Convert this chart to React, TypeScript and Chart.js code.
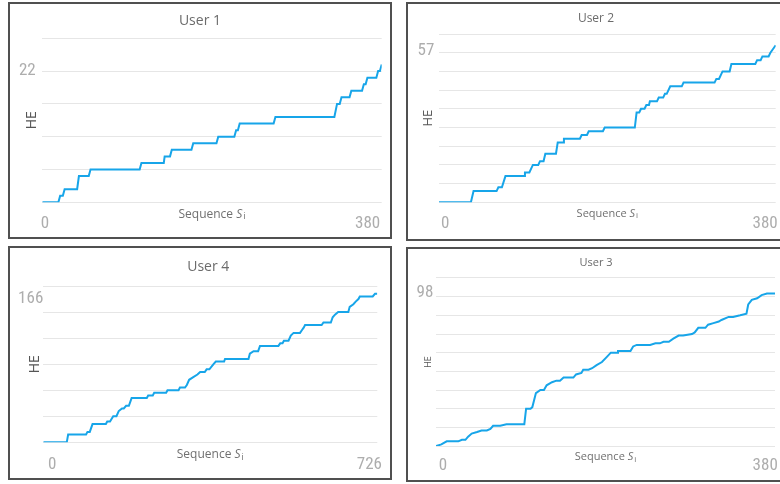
import { useEffect, useRef } from 'react';
import { Chart, registerables } from 'chart.js';

Chart.register(...registerables);

// ---- data: cumulative HE against sequence index S_i ----
const user1Seq = [0, 18, 20, 23, 25, 39, 41, 52, 54, 109, 111, 136, 137, 143, 145, 167, 169, 195, 197, 215, 217, 219, 221, 259, 261, 327, 330, 333, 335, 344, 346, 358, 360, 362, 364, 374, 376, 378, 380];
const user1HE = [1, 1, 2, 2, 3, 3, 5, 5, 6, 6, 7, 7, 8, 8, 9, 9, 10, 10, 11, 11, 12, 12, 13, 13, 14, 14, 16, 16, 17, 17, 18, 18, 19, 19, 20, 20, 21, 21, 22];
const user1Grid = [1, 6, 11, 16, 21, 26];
const user1Label = 22;
const user1SeqMax = 380;

const user2Seq = [0, 36, 39, 65, 67, 71, 75, 96, 97, 102, 104, 106, 112, 114, 118, 120, 132, 134, 140, 141, 159, 161, 167, 169, 185, 187, 221, 223, 226, 228, 232, 234, 237, 238, 246, 248, 253, 255, 257, 261, 274, 276, 311, 313, 316, 320, 328, 330, 357, 359, 363, 365, 372, 374, 377, 380];
const user2HE = [15, 15, 18, 18, 19, 19, 22, 22, 23, 23, 24, 25, 25, 26, 26, 28, 28, 31, 31, 32, 32, 33, 33, 34, 34, 35, 35, 39, 39, 40, 40, 41, 41, 42, 42, 43, 43, 44, 44, 46, 46, 47, 47, 48, 48, 50, 50, 52, 52, 53, 53, 54, 54, 55, 56, 57];
const user2Grid = [15, 20, 25, 30, 35, 40, 45, 50, 55, 60];
const user2Label = 57;
const user2SeqMax = 380;

const user4Seq = [0, 51, 54, 93, 96, 101, 107, 136, 139, 145, 152, 159, 164, 171, 175, 180, 186, 190, 192, 225, 228, 238, 241, 267, 270, 294, 297, 308, 312, 317, 326, 335, 341, 351, 355, 361, 370, 375, 393, 395, 446, 449, 457, 467, 471, 511, 515, 520, 523, 533, 538, 544, 558, 562, 566, 569, 605, 609, 625, 629, 634, 641, 663, 666, 674, 679, 685, 688, 716, 721, 726];
const user4HE = [109, 109, 112, 112, 113, 113, 116, 116, 117, 117, 119, 119, 121, 122, 122, 123, 123, 125, 126, 126, 127, 127, 128, 128, 129, 129, 130, 130, 131, 133, 134, 135, 136, 136, 137, 137, 139, 140, 140, 141, 141, 143, 144, 144, 146, 146, 147, 147, 148, 148, 150, 151, 151, 152, 153, 154, 154, 155, 155, 157, 158, 159, 159, 161, 162, 163, 164, 165, 165, 166, 166];
const user4Grid = [109, 119, 129, 139, 149, 159, 169];
const user4Label = 166;
const user4SeqMax = 726;

const user3Seq = [0, 6, 12, 16, 25, 29, 33, 36, 40, 46, 51, 57, 61, 64, 68, 72, 79, 90, 99, 101, 106, 108, 112, 117, 121, 124, 130, 135, 139, 143, 154, 157, 163, 165, 171, 175, 180, 186, 191, 196, 203, 204, 218, 221, 225, 240, 246, 251, 255, 261, 266, 272, 277, 287, 290, 294, 302, 305, 311, 317, 320, 328, 333, 341, 348, 350, 354, 360, 365, 371, 380];
const user3HE = [0, 1, 3, 3, 3, 4, 4, 6, 8, 9, 10, 10, 11, 13, 13, 13, 14, 14, 14, 24, 24, 25, 34, 36, 36, 39, 41, 42, 42, 44, 44, 46, 47, 49, 49, 50, 52, 54, 57, 60, 60, 61, 61, 64, 65, 65, 66, 66, 67, 67, 69, 71, 71, 72, 73, 76, 76, 78, 79, 80, 81, 83, 83, 84, 85, 91, 94, 95, 97, 98, 98];
const user3Grid = [0, 12, 24, 36, 48, 60, 72, 84, 96, 108];
const user3Label = 98;
const user3SeqMax = 380;

// ---- styling ----
const SANS = "'Open Sans', 'Noto Sans', sans-serif";
const DIGITS = "'Liberation Sans Narrow', 'Roboto Condensed', 'Open Sans', sans-serif";
const LINE_COLOR = '#17a5e9';
const GRID_COLOR = '#e6e6e6';
const DIGIT_COLOR = '#adadad';
const TITLE_COLOR = '#6b6b6b';
const AXIS_TITLE_COLOR = '#555555';
const SEQ_COLOR = '#707070';
const DIGIT_SIZE = 17;

type Panel = {
  title: string;
  seq: number[];
  he: number[];
  seqMax: number;
  grid: number[];
  label: number;
  box: number[]; // canvas left, top, width, height
  frame: number[]; // border box left, top, width, height
  padR: number;
  yWidth: number;
  xHeight: number;
  titleSize: number;
  titleTop: number;
  titleBottom: number;
  titleShift: number;
  heSize: number;
  heTop: number;
  yTickPad: number;
  yLabelOffset: number;
  xTickPad: number;
  xLabelOffset: number;
  seqSize: number;
  seqOffset: number;
};

const panels: Panel[] = [
  {
    title: 'User 1', seq: user1Seq, he: user1HE, seqMax: user1SeqMax, grid: user1Grid, label: user1Label,
    box: [9, 3, 383, 236], frame: [8, 2, 384, 237],
    padR: 10.3, yWidth: 33.3, xHeight: 36.7,
    titleSize: 14, titleTop: 9.3, titleBottom: 9.2, titleShift: 4.6,
    heSize: 14, heTop: 14.6, yTickPad: 6.6, yLabelOffset: 6,
    xTickPad: 2.9, xLabelOffset: -1.5, seqSize: 12, seqOffset: 15.4,
  },
  {
    title: 'User 2', seq: user2Seq, he: user2HE, seqMax: user2SeqMax, grid: user2Grid, label: user2Label,
    box: [407, 3, 378, 238], frame: [406, 2, 380, 239],
    padR: 9.3, yWidth: 32, xHeight: 38.7,
    titleSize: 12, titleTop: 8.8, titleBottom: 7.8, titleShift: 4.6,
    heSize: 13, heTop: 13.2, yTickPad: 4.7, yLabelOffset: 6,
    xTickPad: 3.2, xLabelOffset: 2, seqSize: 11, seqOffset: 14.4,
  },
  {
    title: 'User 4', seq: user4Seq, he: user4HE, seqMax: user4SeqMax, grid: user4Grid, label: user4Label,
    box: [9, 247, 383, 233], frame: [8, 246, 384, 234],
    padR: 14.7, yWidth: 34.3, xHeight: 37.7,
    titleSize: 14, titleTop: 11.9, titleBottom: 10.3, titleShift: 15.1,
    heSize: 14, heTop: 17.9, yTickPad: 0, yLabelOffset: 5,
    xTickPad: 4.4, xLabelOffset: 4.7, seqSize: 12, seqOffset: 16,
  },
  {
    title: 'User 3', seq: user3Seq, he: user3HE, seqMax: user3SeqMax, grid: user3Grid, label: user3Label,
    box: [407, 248, 378, 234], frame: [406, 247, 380, 235],
    padR: 10, yWidth: 29, xHeight: 36,
    titleSize: 11, titleTop: 8.7, titleBottom: 8.1, titleShift: 5,
    heSize: 9, heTop: 15.9, yTickPad: 2.7, yLabelOffset: -0.8,
    xTickPad: 1.2, xLabelOffset: 2.8, seqSize: 11, seqOffset: 14,
  },
];

// moves the chart title block sideways after layout
const titleShift = {
  id: 'titleShift',
  afterLayout(chart: any, _args: any, opts: any) {
    const tb = chart.titleBlock;
    if (tb && opts.dx) {
      tb.left += opts.dx;
      tb.right += opts.dx;
    }
  },
};

// x-axis caption "Sequence S_i" with an italic S and a subscript i, centred under the plot
const sequenceTitle = {
  id: 'sequenceTitle',
  afterDraw(chart: any, _args: any, opts: any) {
    const { ctx, chartArea } = chart;
    const size = opts.size as number;
    const word = 'Sequence ';
    ctx.save();
    ctx.fillStyle = opts.color;
    ctx.textBaseline = 'alphabetic';
    ctx.textAlign = 'left';
    ctx.font = `${size}px ${SANS}`;
    const w1 = ctx.measureText(word).width;
    ctx.font = `italic ${size}px ${SANS}`;
    const w2 = ctx.measureText('S').width;
    const subSize = Math.round(size * 0.72);
    ctx.font = `${subSize}px ${SANS}`;
    const w3 = ctx.measureText('i').width;
    const total = w1 + w2 + 1 + w3;
    let x = (chartArea.left + chartArea.right) / 2 - total / 2;
    const y = chartArea.bottom + opts.offset;
    ctx.font = `${size}px ${SANS}`;
    ctx.fillText(word, x, y);
    x += w1;
    ctx.font = `italic ${size}px ${SANS}`;
    ctx.fillText('S', x, y);
    x += w2 + 1;
    ctx.font = `${subSize}px ${SANS}`;
    ctx.fillText('i', x, y + 1.5);
    ctx.restore();
  },
};

function ChartPanel({ p }: { p: Panel }) {
  const ref = useRef<HTMLCanvasElement>(null);

  useEffect(() => {
    const canvas = ref.current;
    if (!canvas) return;
    const yTicks = Array.from(new Set([...p.grid, p.label])).sort((a, b) => a - b);
    const points = p.seq.map((s, i) => ({ x: s, y: p.he[i] }));
    const digitFont = { family: DIGITS, size: DIGIT_SIZE, weight: 'normal' as const };

    const chart = new Chart(canvas, {
      type: 'line',
      data: {
        datasets: [
          {
            data: points,
            borderColor: LINE_COLOR,
            borderWidth: 2,
            pointRadius: 0,
            tension: 0,
            fill: false,
          },
        ],
      },
      options: {
        animation: false,
        responsive: false,
        events: [],
        layout: { padding: { left: 0, right: p.padR, top: 0, bottom: 0 } },
        plugins: {
          legend: { display: false },
          tooltip: { enabled: false },
          title: {
            display: true,
            text: p.title,
            color: TITLE_COLOR,
            font: { family: SANS, size: p.titleSize, weight: 'normal' },
            padding: { top: p.titleTop, bottom: p.titleBottom },
          },
          titleShift: { dx: p.titleShift },
          sequenceTitle: { size: p.seqSize, offset: p.seqOffset, color: SEQ_COLOR },
        } as any,
        scales: {
          x: {
            type: 'linear',
            min: 0,
            max: p.seqMax,
            grid: { display: false },
            border: { display: false },
            afterBuildTicks: (s: any) => {
              s.ticks = [{ value: 0 }, { value: p.seqMax }];
            },
            afterFit: (s: any) => {
              s.height = p.xHeight;
              s.paddingLeft = 0;
              s.paddingRight = 0;
            },
            ticks: {
              align: 'inner',
              maxRotation: 0,
              autoSkip: false,
              padding: p.xTickPad,
              labelOffset: p.xLabelOffset,
              color: DIGIT_COLOR,
              font: digitFont,
              callback: (v: any) => String(v),
            },
          },
          y: {
            type: 'linear',
            min: p.grid[0],
            max: p.grid[p.grid.length - 1],
            border: { display: false },
            grid: {
              drawTicks: false,
              lineWidth: 1,
              color: (ctx: any) =>
                ctx.tick && p.grid.includes(ctx.tick.value) ? GRID_COLOR : 'rgba(0,0,0,0)',
            },
            afterBuildTicks: (s: any) => {
              s.ticks = yTicks.map((v) => ({ value: v }));
            },
            afterFit: (s: any) => {
              s.width = p.yWidth;
              s.paddingTop = 0;
              s.paddingBottom = 0;
            },
            ticks: {
              autoSkip: false,
              padding: p.yTickPad,
              labelOffset: p.yLabelOffset,
              color: DIGIT_COLOR,
              font: digitFont,
              callback: (v: any) => (v === p.label ? String(v) : ''),
            },
            title: {
              display: true,
              text: 'HE',
              color: AXIS_TITLE_COLOR,
              font: { family: SANS, size: p.heSize, weight: 'normal' },
              padding: { top: p.heTop, bottom: 0 },
            },
          },
        } as any,
      },
      plugins: [titleShift, sequenceTitle],
    });

    return () => chart.destroy();
  }, [p]);

  const [l, t, w, h] = p.box;
  return (
    <canvas
      ref={ref}
      width={w}
      height={h}
      style={{ position: 'absolute', left: l, top: t, width: w, height: h }}
    />
  );
}

export default function App() {
  return (
    <div
      style={{
        position: 'absolute',
        left: 0,
        top: 0,
        width: 780,
        height: 484,
        overflow: 'hidden',
        background: '#ffffff',
      }}
    >
      {panels.map((p) => (
        <ChartPanel key={p.title} p={p} />
      ))}
      {panels.map((p) => (
        <div
          key={p.title + '-frame'}
          style={{
            position: 'absolute',
            left: p.frame[0],
            top: p.frame[1],
            width: p.frame[2],
            height: p.frame[3],
            border: '2px solid #505050',
            boxSizing: 'border-box',
            pointerEvents: 'none',
          }}
        />
      ))}
    </div>
  );
}
